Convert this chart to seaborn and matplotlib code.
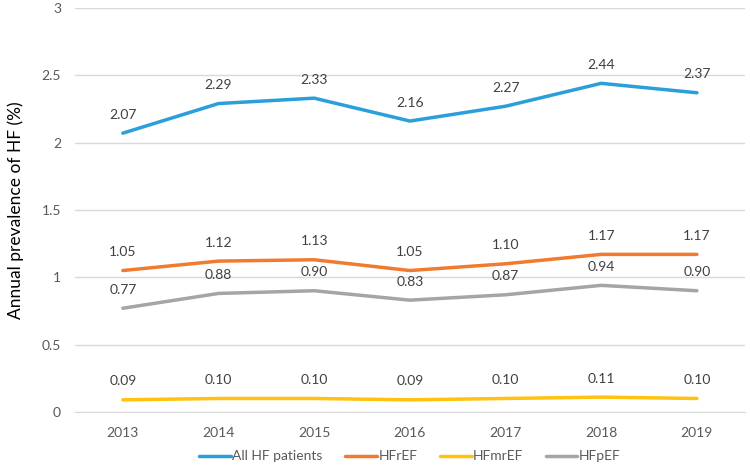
import matplotlib
matplotlib.use("Agg")
import matplotlib.pyplot as plt
import pandas as pd
import seaborn as sns

years = ["2013", "2014", "2015", "2016", "2017", "2018", "2019"]
all_hf = [2.07, 2.29, 2.33, 2.16, 2.27, 2.44, 2.37]
hfref = [1.05, 1.12, 1.13, 1.05, 1.10, 1.17, 1.17]
hfmref = [0.09, 0.10, 0.10, 0.09, 0.10, 0.11, 0.10]
hfpef = [0.77, 0.88, 0.90, 0.83, 0.87, 0.94, 0.90]

series_names = ["All HF patients", "HFrEF", "HFmrEF", "HFpEF"]
colors = ["#2A9FDB", "#F07B2E", "#FFC20E", "#A5A5A5"]

df = pd.DataFrame({
    "year": years * 4,
    "value": all_hf + hfref + hfmref + hfpef,
    "series": sum([[s] * len(years) for s in series_names], []),
})

sns.set_style("white")
plt.rcParams["font.family"] = ["Lato", "DejaVu Sans"]

fig, ax = plt.subplots(figsize=(7.5, 4.66), dpi=100)
fig.subplots_adjust(left=0.1, right=0.993, top=0.983, bottom=0.116)

sns.lineplot(data=df, x="year", y="value", hue="series", hue_order=series_names,
             palette=colors, linewidth=2.5, ax=ax, sort=False)

for name, vals in zip(series_names, [all_hf, hfref, hfmref, hfpef]):
    for i, v in enumerate(vals):
        ax.annotate(f"{v:.2f}", (i, v), xytext=(0, 9), textcoords="offset points",
                    ha="center", va="bottom", fontsize=10, color="#404040")

ax.set_ylim(0, 3)
ax.set_xlim(-0.5, 6.5)
ax.set_yticks([0, 0.5, 1, 1.5, 2, 2.5, 3])
ax.set_yticklabels(["0", "0.5", "1", "1.5", "2", "2.5", "3"])
ax.yaxis.grid(True, color="#D9D9D9", linewidth=1)
ax.set_axisbelow(True)
for sp in ["left", "right", "top"]:
    ax.spines[sp].set_visible(False)
ax.spines["bottom"].set_color("#D9D9D9")
ax.tick_params(axis="both", length=0, labelsize=10, labelcolor="#595959")
ax.tick_params(axis="x", pad=11)
ax.tick_params(axis="y", pad=10)
ax.set_xlabel("")
ax.set_ylabel("Annual prevalence of HF (%)", fontsize=12.5, color="black")
ax.yaxis.set_label_coords(-0.076, 0.5)

handles, labels = ax.get_legend_handles_labels()
ax.legend(handles, labels, loc="center", bbox_to_anchor=(0.5, -0.11), ncol=4,
          frameon=False, fontsize=10, handlelength=2.3, handletextpad=0.1,
          columnspacing=1.6, labelcolor="#595959")

fig.savefig("out.png", dpi=100)
